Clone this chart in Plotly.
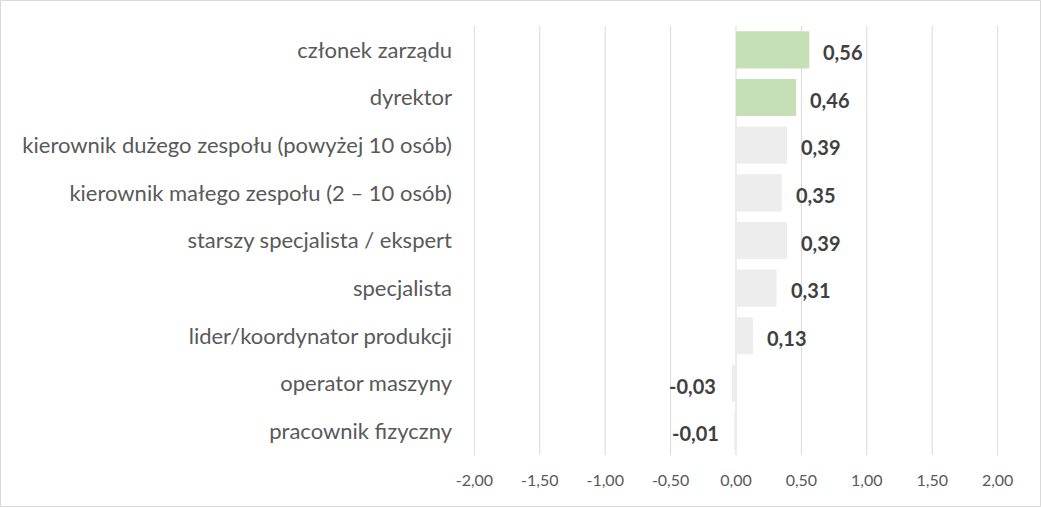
import plotly.graph_objects as go

categories = [
    "członek zarządu",
    "dyrektor",
    "kierownik dużego zespołu (powyżej 10 osób)",
    "kierownik małego zespołu (2 – 10 osób)",
    "starszy specjalista / ekspert",
    "specjalista",
    "lider/koordynator produkcji",
    "operator maszyny",
    "pracownik fizyczny",
]
values = [0.56, 0.46, 0.39, 0.35, 0.39, 0.31, 0.13, -0.03, -0.01]
colors = ["#C5E0B4", "#C5E0B4"] + ["#EDEDED"] * 7
tick_vals = [-2.0, -1.5, -1.0, -0.5, 0.0, 0.5, 1.0, 1.5, 2.0]
tick_text = ["-2,00", "-1,50", "-1,00", "-0,50", "0,00", "0,50", "1,00", "1,50", "2,00"]

labels = [f"{v:.2f}".replace(".", ",") for v in values]

fig = go.Figure(go.Bar(
    y=categories,
    x=values,
    orientation="h",
    marker=dict(color=colors, line=dict(width=0)),
    hoverinfo="x+y",
))

for cat, v, lab in zip(categories, values, labels):
    fig.add_annotation(
        x=v, y=cat, xref="x", yref="y", text=lab, showarrow=False,
        xanchor="left" if v >= 0 else "right",
        xshift=12 if v >= 0 else -14, yshift=-2,
        font=dict(family="Lato", size=20, color="#404040", weight="bold"),
    )

L, R, T, B = 474, 43, 26, 53
W, H = 1041, 508
pw, ph = W - L - R, H - T - B

shapes = [dict(
    type="rect", xref="paper", yref="paper",
    x0=(0.5 - L) / pw, x1=(W - 0.5 - L) / pw,
    y0=(H - B - (H - 1.5)) / ph, y1=(H - B - 0.5) / ph,
    line=dict(color="#D9D9D9", width=1), fillcolor="rgba(0,0,0,0)",
    layer="below",
)]
for tv in tick_vals:
    shapes.append(dict(
        type="line", xref="x", yref="paper", x0=tv, x1=tv, y0=0, y1=1,
        line=dict(color="#D9D9D9", width=1), layer="below",
    ))

fig.update_layout(
    width=W, height=H,
    margin=dict(l=L, r=R, t=T, b=B),
    paper_bgcolor="white", plot_bgcolor="white",
    bargap=0.22,
    showlegend=False,
    font=dict(family="Lato", color="#595959"),
    xaxis=dict(
        range=[-2.003, 2.003], tickvals=tick_vals, ticktext=tick_text,
        showgrid=False,
        zeroline=False, showline=False,
        tickfont=dict(size=16, color="#595959"),
        ticks="", ticklabelstandoff=14,
    ),
    yaxis=dict(
        autorange="reversed",
        tickfont=dict(size=22, color="#595959"),
        showgrid=False, zeroline=False, showline=False,
        ticks="", ticklabelstandoff=21,
    ),
    shapes=shapes,
)

fig.write_html("out.html", config={"displayModeBar": False},
               post_script="document.body.style.margin='0px';")
